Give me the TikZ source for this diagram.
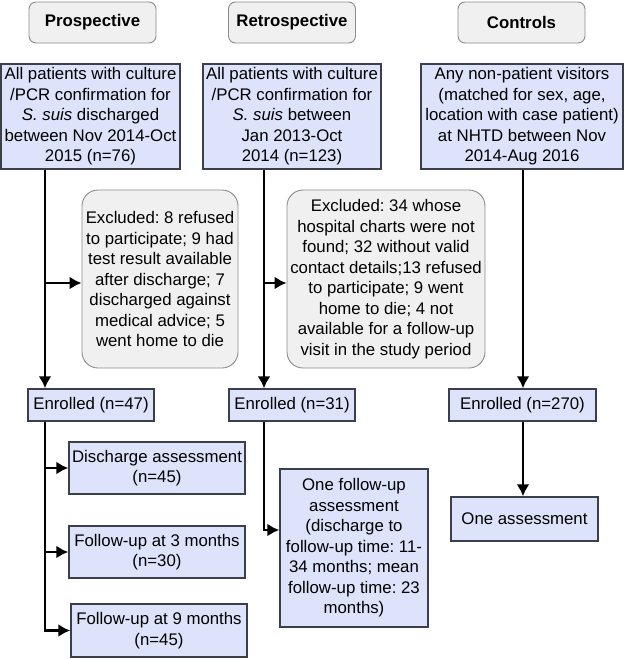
\documentclass[tikz,border=0pt]{standalone}
\usepackage{fontspec}
\setmainfont{Liberation Sans}
\usepackage{tikz}
\usetikzlibrary{arrows.meta}
\usetikzlibrary{positioning}
\frenchspacing
\tikzset{arr/.style = {-{Latex[length=12pt, width=13pt]}, line width=2.7pt}}
\tikzset{hdr/.style = {draw=mgrey, fill=mlight, rounded corners=7pt, line width=0.9pt,
                       minimum width=127pt, minimum height=41pt,
                       font=\fontsize{16.8}{20.5}\selectfont\bfseries}}
\tikzset{bluebox/.style = {draw=mdark, fill=mblue, line width=1.4pt, align=center,
                           inner sep=1pt}}
\tikzset{excl/.style = {draw=mgrey, fill=mlight, rounded corners=16pt, line width=0.9pt,
                        align=center, inner sep=1pt}}
\definecolor{mblue}{HTML}{DCE3FA}
\definecolor{mdark}{HTML}{3A3F4A}
\definecolor{mgrey}{HTML}{8C8C8C}
\definecolor{mlight}{HTML}{F0F0F0}

\begin{document}
\begin{tikzpicture}[x=1pt, y=-1pt, font=\fontsize{16.8}{20.5}\selectfont]
    \useasboundingbox (0, 0) rectangle (625, 659);

    \node [hdr] (hdrP) at (92.5, 22.5) {Prospective};
    \node [hdr] (hdrR) at (292, 22.5) {Retrospective};
    \node [hdr] (hdrC) at (521.5, 22.5) {Controls};

    \node [bluebox, minimum width=179pt, minimum height=105pt] (srcP) at (90.5, 116.5)
      {All patients with culture\\/PCR confirmation for\\\textit{S. suis} discharged\\between Nov 2014-Oct\\2015 (n=76)};
    \node [bluebox, minimum width=178pt, minimum height=105pt] (srcR) at (292, 116.5)
      {All patients with culture\\/PCR confirmation for\\\textit{S. suis} between\\Jan 2013-Oct\\2014 (n=123)};
    \node [bluebox, minimum width=202pt, minimum height=105pt] (srcC) at (522, 116.5)
      {Any non-patient visitors\\(matched for sex, age,\\location with case patient)\\at NHTD between Nov\\2014-Aug 2016};

    \node [excl, minimum width=156pt, minimum height=178pt] (exclP) at (160, 279)
      {Excluded: 8 refused\\to participate; 9 had\\test result available\\after discharge; 7\\discharged against\\medical advice; 5\\went home to die};
    \node [excl, minimum width=198pt, minimum height=178pt] (exclR) at (386, 279)
      {Excluded: 34 whose\\hospital charts were not\\found; 32 without valid\\contact details;13 refused\\to participate; 9 went\\home to die; 4 not\\available for a follow-up\\visit in the study period};

    \node [bluebox, minimum width=126pt, minimum height=32pt] (enrP) at (91, 405) {Enrolled (n=47)};
    \node [bluebox, minimum width=126pt, minimum height=32pt] (enrR) at (292, 405) {Enrolled (n=31)};
    \node [bluebox, minimum width=147pt, minimum height=32pt] (enrC) at (522.5, 405) {Enrolled (n=270)};

    \node [bluebox, minimum width=176pt, minimum height=52pt] (dis) at (157, 468)
      {Discharge assessment\\(n=45)};
    \node [bluebox, minimum width=176pt, minimum height=52pt] (fu3) at (157, 552)
      {Follow-up at 3 months\\(n=30)};
    \node [bluebox, minimum width=176pt, minimum height=53pt] (fu9) at (159, 630.5)
      {Follow-up at 9 months\\(n=45)};
    \node [bluebox, minimum width=148pt, minimum height=158pt] (oneFU) at (354, 548)
      {One follow-up\\assessment\\(discharge to\\follow-up time: 11-\\34 months; mean\\follow-up time: 23\\months)};
    \node [bluebox, minimum width=147pt, minimum height=44pt] (oneA) at (524.5, 519) {One assessment};

    \coordinate (tP) at (45, 0);
    \coordinate (tR) at (264, 0);
    \coordinate (tC) at (523, 0);

    % trunks down to enrolment
    \draw [arr] (srcP.south -| tP) -- (enrP.north -| tP);
    \draw [arr] (srcR.south -| tR) -- (enrR.north -| tR);
    \draw [arr] (srcC.south -| tC) -- (enrC.north -| tC);
    \draw [arr] ([yshift=-4pt] exclP.west -| tP) -- ([yshift=-4pt] exclP.west);
    \draw [arr] ([yshift=-4pt] exclR.west -| tR) -- ([yshift=-4pt] exclR.west);

    % assessments
    \draw [arr] (enrP.south -| tP) |- (dis.west);
    \draw [arr] (enrP.south -| tP) |- (fu3.west);
    \draw [arr] (enrP.south -| tP) |- (fu9.west);
    \draw [arr] (enrR.south -| tR) |- ([yshift=18pt] oneFU.west);
    \draw [arr] (enrC.south -| tC) -- (oneA.north -| tC);
\end{tikzpicture}
\end{document}
